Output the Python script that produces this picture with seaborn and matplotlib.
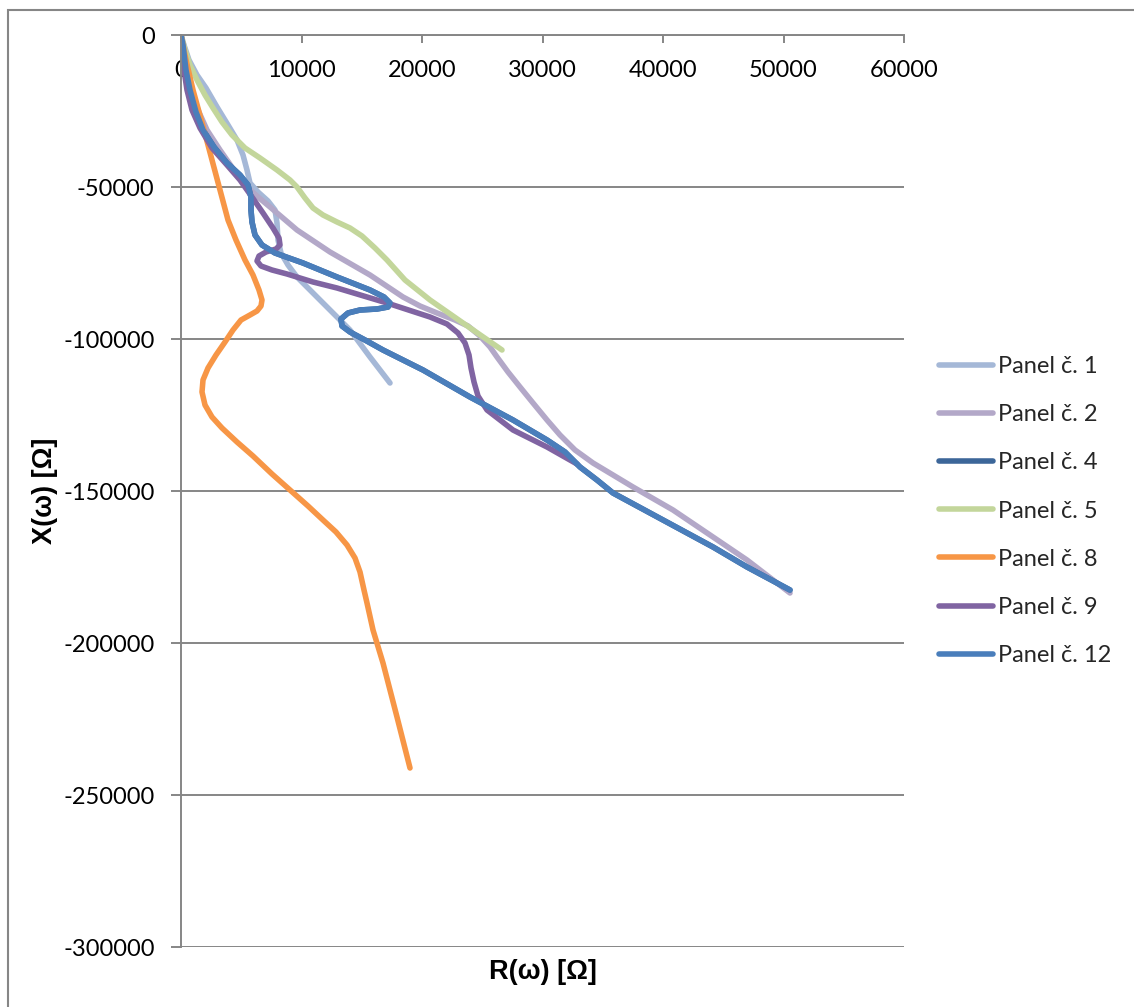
import matplotlib
matplotlib.use("Agg")
import matplotlib.pyplot as plt
import seaborn as sns
import pandas as pd
from matplotlib.patches import Rectangle
from matplotlib.ticker import FixedLocator, StrMethodFormatter

# Impedance curves R(ω) / X(ω) per panel, in ohms
panel_names = ["Panel č. 1", "Panel č. 2", "Panel č. 4", "Panel č. 5",
               "Panel č. 8", "Panel č. 9", "Panel č. 12"]

r_panel1 = [0, 249, 664, 1328, 2075, 2988, 3900, 4647, 5145, 5477, 5726,
            6390, 7220, 7801, 7967, 8050, 8299, 8880, 9627, 10457, 11784,
            12946, 14025, 15685, 17345]
x_panel1 = [0, -3289, -8224, -13158, -17434, -23684, -29605, -34539,
            -39474, -44408, -48684, -51645, -54605, -57566, -61842,
            -67434, -71711, -75658, -79605, -82895, -88158, -92763,
            -97039, -105921, -114474]

r_panel2 = [0, 166, 415, 830, 1411, 2158, 3237, 4398, 5477, 6390, 7386,
            9627, 12366, 15685, 18424, 19835, 21245, 22739, 23818, 24814,
            25644, 26225, 27138, 28134, 29213, 30374, 31453, 32698, 34192,
            37511, 40830, 44150, 46972, 50540]
x_panel2 = [0, -4934, -11513, -18092, -24671, -31250, -37829, -44408,
            -50000, -53289, -56579, -64145, -71382, -78947, -86184,
            -89145, -91447, -93750, -95724, -99013, -102632, -105921,
            -110855, -115789, -121053, -126645, -131579, -136513, -140789,
            -148684, -156250, -165132, -172697, -183553]

r_panel12 = [0, 166, 415, 747, 1245, 1826, 2739, 3817, 4896, 5560, 5809,
             5809, 5892, 6141, 6722, 7801, 10124, 12946, 15685, 16847,
             17345, 17178, 16266, 14855, 13859, 13278, 13361, 14025, 15270,
             16764, 20083, 23984, 27552, 30374, 31868, 33112, 34523, 35851,
             40001, 44150, 46972, 50540]
x_panel12 = [0, -3289, -11513, -18092, -25329, -31250, -36842, -42105,
             -46053, -49342, -53289, -57566, -61513, -65789, -69079,
             -71711, -75000, -79605, -83882, -86184, -88158, -89474,
             -90132, -90461, -91447, -93421, -95724, -97697, -100329,
             -103618, -110197, -119079, -126645, -133224, -137171,
             -142105, -146382, -150658, -159539, -168421, -175000, -182566]

# Panel 4 runs underneath Panel 12 along the same path
r_panel4 = list(r_panel12)
x_panel4 = list(x_panel12)

r_panel5 = [0, 332, 747, 1328, 1992, 2656, 3402, 4233, 5311, 6556, 7967,
            9046, 9627, 10291, 10955, 11784, 12946, 14025, 15021, 16100,
            17096, 18589, 20665, 23403, 26640]
x_panel5 = [0, -4934, -9868, -14803, -19737, -24013, -28618, -32895,
            -37171, -40461, -44408, -47697, -50000, -53618, -56908,
            -59211, -61513, -63487, -66118, -70066, -74013, -80592,
            -87171, -94737, -103618]

r_panel8 = [0, 415, 996, 1909, 2573, 3237, 3900, 4564, 5311, 5975, 6473,
            6722, 6639, 6307, 5726, 4979, 4315, 3652, 2905, 2241, 1826,
            1743, 1992, 2573, 3402, 4647, 5975, 7552, 9046, 10539, 11784,
            12863, 13776, 14440, 14855, 15187, 15436, 15934, 16763, 17925,
            19004]
x_panel8 = [0, -8224, -18092, -31250, -41118, -50987, -60855, -67434,
            -74013, -78947, -83882, -87171, -89145, -90789, -92105,
            -93750, -97039, -100987, -105263, -109539, -113487, -117434,
            -121711, -125658, -129276, -133882, -138487, -144408, -149671,
            -154934, -159539, -163487, -167763, -172039, -176645, -182566,
            -186842, -195724, -206579, -224342, -241118]

r_panel9 = [0, 83, 249, 498, 913, 1577, 2573, 3817, 4896, 5892, 6805,
            7635, 8133, 8216, 7884, 7054, 6473, 6307, 6639, 7552, 8797,
            10955, 12946, 17096, 20665, 22075, 22988, 23569, 23901, 24067,
            24316, 24648, 25395, 26474, 27552, 30374, 32864]
x_panel9 = [0, -4934, -11513, -18092, -24671, -30592, -37171, -42763,
            -47697, -53289, -58553, -63487, -66776, -69079, -70395,
            -71382, -72697, -74342, -75987, -77303, -78618, -81250,
            -83224, -88158, -92763, -95066, -98026, -101316, -105263,
            -109539, -114145, -118750, -123355, -126645, -129934,
            -135526, -141118]

series_r = [r_panel1, r_panel2, r_panel4, r_panel5, r_panel8, r_panel9, r_panel12]
series_x = [x_panel1, x_panel2, x_panel4, x_panel5, x_panel8, x_panel9, x_panel12]
panel_colors = ["#A5B8D7", "#B3A8C8", "#3C6699", "#C3D69B",
                "#F79646", "#8064A2", "#4A7EBB"]

x_ticks = [0, 10000, 20000, 30000, 40000, 50000, 60000]
y_ticks = [0, -50000, -100000, -150000, -200000, -250000, -300000]

sns.set_theme(style="white")
plt.rcParams["font.family"] = ["Lato", "DejaVu Sans"]
plt.rcParams["axes.unicode_minus"] = False

grid_grey = "#868686"
fs = 17

fig = plt.figure(figsize=(11.34, 10.07), dpi=100)
ax = fig.add_axes([181 / 1134, 1 - 947 / 1007, (904 - 181) / 1134, (947 - 35) / 1007])

# outer chart frame
fig.patches.append(Rectangle((8 / 1134, -0.2), 1.5, 0.2 + (1 - 10 / 1007),
                             transform=fig.transFigure, fill=False,
                             edgecolor=grid_grey, linewidth=1.5, zorder=0))

for name, rv, xv, col in zip(panel_names, series_r, series_x, panel_colors):
    df = pd.DataFrame({"R": rv, "X": xv})
    sns.lineplot(data=df, x="R", y="X", sort=False, estimator=None, ax=ax,
                 color=col, linewidth=4.0, label=name,
                 solid_capstyle="round", solid_joinstyle="round")

ax.set_xlim(0, 60000)
ax.set_ylim(-300000, 0)
ax.xaxis.set_major_locator(FixedLocator(x_ticks))
ax.yaxis.set_major_locator(FixedLocator(y_ticks))
ax.xaxis.set_major_formatter(StrMethodFormatter("{x:.0f}"))
ax.yaxis.set_major_formatter(StrMethodFormatter("{x:.0f}"))

# horizontal gridlines only
ax.grid(False)
ax.yaxis.grid(True, color=grid_grey, linewidth=1.4)
ax.set_axisbelow(True)

for side in ["top", "right"]:
    ax.spines[side].set_visible(False)
ax.spines["left"].set_color(grid_grey)
ax.spines["left"].set_linewidth(1.4)
ax.spines["bottom"].set_position(("data", 0))
ax.spines["bottom"].set_color(grid_grey)
ax.spines["bottom"].set_linewidth(1.4)

ax.tick_params(axis="x", direction="out", length=6, width=1.4, color=grid_grey,
               labelsize=fs, pad=12, labelcolor="black", bottom=True)
ax.tick_params(axis="y", direction="out", length=7, width=1.4, color=grid_grey,
               labelsize=fs, pad=12, labelcolor="black", left=True)

label_font = dict(fontsize=19.5, fontweight="bold", color="black",
                  family=["Liberation Sans", "DejaVu Sans"])
ax.set_xlabel("R(ω) [Ω]", **label_font)
ax.xaxis.set_label_coords(0.5, -0.013)
ax.set_ylabel("X(ω) [Ω]", **label_font)
ax.yaxis.set_label_coords(-0.170, 0.5)

handles, labels = ax.get_legend_handles_labels()
ax.legend(handles, labels, loc="center left",
          bbox_to_anchor=(939 / 1134, 1 - 511 / 1007),
          bbox_transform=fig.transFigure, frameon=False, fontsize=fs,
          handlelength=2.3, handletextpad=0.2, labelspacing=1.15,
          borderpad=0, borderaxespad=0)

fig.savefig("out.png", dpi=100)
